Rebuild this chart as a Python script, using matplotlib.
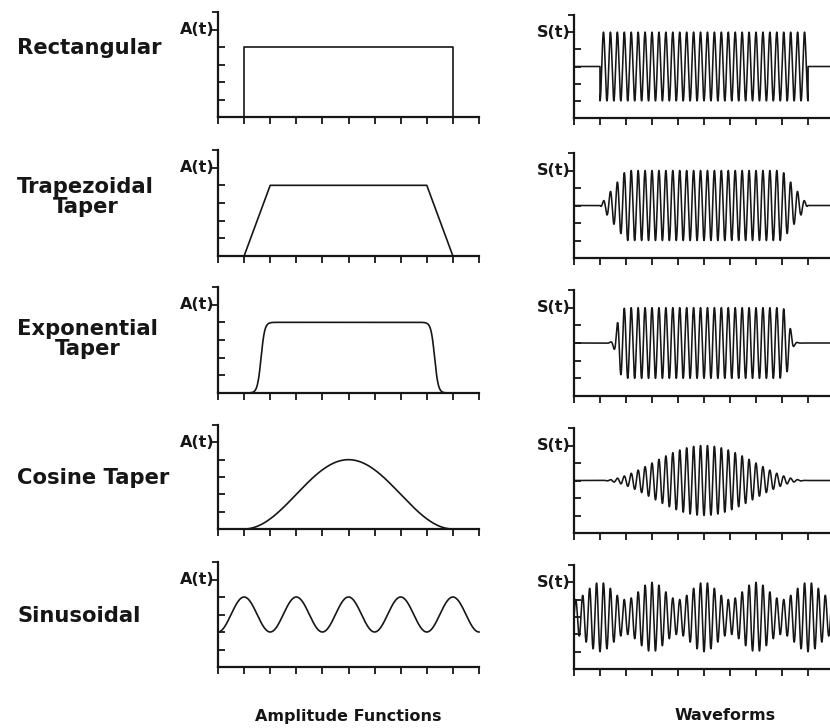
import numpy as np
import matplotlib.pyplot as plt

# row labels and axis labels
row_names = ['Rectangular', 'Trapezoidal\nTaper', 'Exponential\nTaper', 'Cosine Taper', 'Sinusoidal']
amp_label = 'A(t)'
wave_label = 'S(t)'
col_titles = ['Amplitude Functions', 'Waveforms']

x_ticks = list(range(0, 11))
y_ticks = list(range(0, 7))

rect_x = [0, 1, 1, 9, 9, 10]
rect_y = [0, 0, 4, 4, 0, 0]
trap_x = [0, 1, 2, 8, 9, 10]
trap_y = [0, 0, 4, 4, 0, 0]
exp_edges = [1.65, 8.3]       # mid points of the exponential rise / fall
exp_width = 0.07
cos_span = [1, 9]             # cosine taper start / end
sin_mean, sin_amp, sin_period = 3, 1, 2
plateau = 4

# waveform: baseline level and carrier frequency (cycles per x unit)
wave_base = 3
carrier = 3.75

t = np.linspace(0, 10, 6000)


def sig(z):
    return 1 / (1 + np.exp(-z))


amps = [
    np.where((t >= rect_x[1]) & (t <= rect_x[3]), rect_y[2], 0),
    np.interp(t, trap_x, trap_y),
    plateau * sig((t - exp_edges[0]) / exp_width) * sig((exp_edges[1] - t) / exp_width),
    np.where((t >= cos_span[0]) & (t <= cos_span[1]),
             plateau * np.sin(np.pi * (t - cos_span[0]) / (cos_span[1] - cos_span[0])) ** 2, 0),
    sin_mean - sin_amp * np.cos(2 * np.pi * t / sin_period),
]

fig = plt.figure(figsize=(8.3, 7.28), dpi=100)
W, H = 830, 728
ink = '#161616'

left_top = [12, 150, 287, 425, 562]
left_bot = [117, 256, 393, 529, 667]
right_top = [15, 153, 290, 428, 565]
right_bot = [118, 258, 396, 533, 669]
label_y = [48, 197, 339, 478, 616]


def style(ax, label):
    ax.set_xlim(0, 10)
    ax.set_ylim(0, 6)
    for s in ['top', 'right']:
        ax.spines[s].set_visible(False)
    for s in ['left', 'bottom']:
        ax.spines[s].set_linewidth(1.6)
        ax.spines[s].set_color(ink)
    ax.set_xticks(x_ticks)
    ax.set_yticks(y_ticks[:5])
    ax.set_yticks(y_ticks[5:], minor=True)
    ax.tick_params(axis='x', direction='out', length=5, width=1.3, color=ink, labelbottom=False)
    ax.tick_params(axis='y', which='major', direction='in', length=5, width=1.3, color=ink, labelleft=False)
    ax.tick_params(axis='y', which='minor', direction='out', length=4, width=1.3, color=ink)
    ax.text(-0.12, 5, label, transform=ax.transData, ha='right', va='center',
            fontsize=11.5, fontweight='bold', color=ink, family='DejaVu Sans')
    ax.patch.set_alpha(0)


for i in range(5):
    axl = fig.add_axes([218 / W, 1 - left_bot[i] / H, 261 / W, (left_bot[i] - left_top[i]) / H])
    style(axl, amp_label)
    if i == 0:
        axl.plot(rect_x, rect_y, color=ink, lw=1.2, clip_on=False)
    elif i == 1:
        axl.plot(trap_x, trap_y, color=ink, lw=1.2, clip_on=False)
    else:
        axl.plot(t, amps[i], color=ink, lw=1.2, clip_on=False)

    axr = fig.add_axes([574 / W, 1 - right_bot[i] / H, 260 / W, (right_bot[i] - right_top[i]) / H])
    style(axr, wave_label)
    s = wave_base + amps[i] / 2 * np.sin(2 * np.pi * carrier * t)
    axr.plot(t, s, color=ink, lw=1.15)

    fig.text(17 / W, 1 - label_y[i] / H, row_names[i], ha='left', va='center',
             multialignment='center', fontsize=15.2, fontweight='bold', color=ink,
             linespacing=1.0)

fig.text(348 / W, 1 - 716 / H, col_titles[0], ha='center', va='center',
         fontsize=11.5, fontweight='bold', color=ink)
fig.text(725 / W, 1 - 716 / H, col_titles[1], ha='center', va='center',
         fontsize=11.5, fontweight='bold', color=ink)

fig.savefig('out.png', dpi=100, facecolor='white')
